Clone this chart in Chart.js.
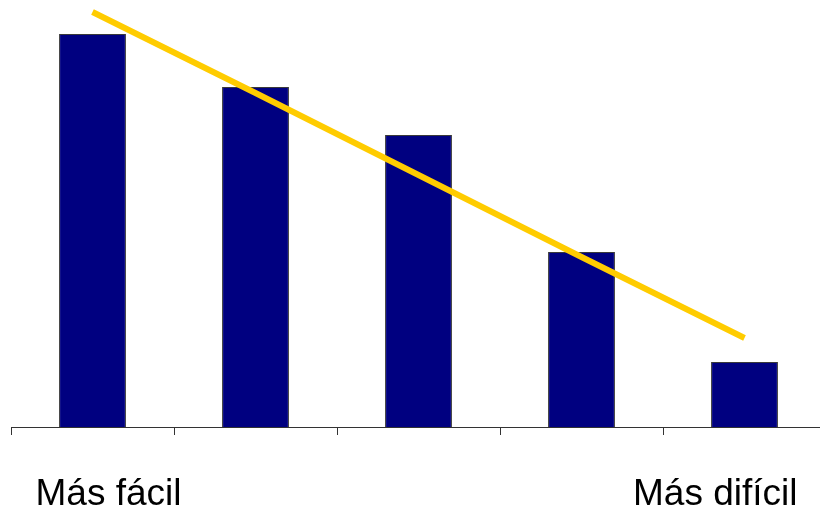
<!DOCTYPE html>
<html>
<head>
<meta charset="utf-8">
<script src="https://cdn.jsdelivr.net/npm/chart.js@4"></script>
<style>
  html, body { margin: 0; padding: 0; background: #fff; overflow: hidden; width: 820px; height: 511px; }
  #wrap { position: relative; width: 840px; height: 511px; }
</style>
</head>
<body>
<div id="wrap"><canvas id="c" width="840" height="511"></canvas></div>
<script>
const categories = ['Más fácil', '', '', '', 'Más difícil'];
const barValues = [393, 340, 292, 175, 65];
const trendValues = [415, 334, 252, 170, 89];
const yMax = 427;

const edgeLabels = {
  id: 'edgeLabels',
  afterDraw(chart) {
    const ctx = chart.ctx;
    const xs = chart.scales.x;
    ctx.save();
    ctx.fillStyle = '#000';
    ctx.font = '37px "Liberation Sans", Arial, sans-serif';
    ctx.textBaseline = 'alphabetic';
    const y = 505;
    ctx.textAlign = 'left';
    ctx.fillText(categories[0], xs.getPixelForValue(0) - 57, y);
    ctx.textAlign = 'right';
    ctx.fillText(categories[4], xs.getPixelForValue(4) + 53, y);
    ctx.restore();
  }
};

new Chart(document.getElementById('c'), {
  type: 'bar',
  data: {
    labels: categories,
    datasets: [
      {
        type: 'line',
        data: trendValues,
        borderColor: '#FFCC00',
        borderWidth: 6,
        pointRadius: 0,
        fill: false,
        tension: 0,
        borderCapStyle: 'butt',
        order: 0
      },
      {
        type: 'bar',
        data: barValues,
        backgroundColor: '#000080',
        borderColor: '#3a3a3a',
        borderWidth: 1,
        categoryPercentage: 1,
        barPercentage: 0.41,
        order: 1
      }
    ]
  },
  options: {
    responsive: false,
    animation: false,
    events: [],
    layout: { padding: { left: 11, right: 14, top: 0, bottom: 76 } },
    plugins: { legend: { display: false }, tooltip: { enabled: false } },
    scales: {
      x: {
        offset: true,
        grid: { display: true, offset: true, drawOnChartArea: false, drawTicks: true, tickLength: 8, color: '#333' },
        border: { display: true, color: '#333', width: 1 },
        ticks: { display: false }
      },
      y: {
        display: false,
        min: 0,
        max: yMax
      }
    }
  },
  plugins: [edgeLabels]
});
</script>
</body>
</html>
